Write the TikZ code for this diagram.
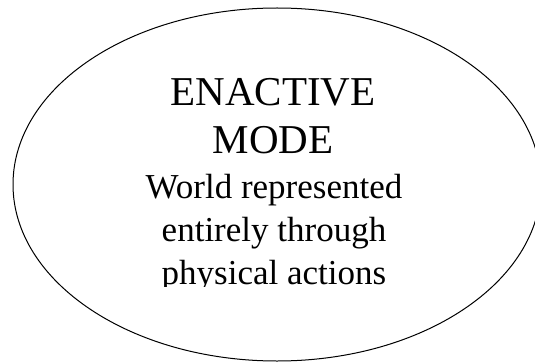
\documentclass[tikz,border=0pt]{standalone}
\usepackage{fontspec}
\setmainfont{Liberation Serif}
\usepackage{tikz}
\usetikzlibrary{positioning}

\tikzset{
  titleline/.style={anchor=base, inner sep=0pt, font=\fontsize{41}{48}\selectfont},
  textline/.style={anchor=base, inner sep=0pt, font=\fontsize{35}{40}\selectfont}
}

\begin{document}
\begin{tikzpicture}[x=1pt,y=1pt]
  \useasboundingbox (0,0) rectangle (535,362);
  \clip (0,0) rectangle (535,362);

  % Outline (runs off the right edge)
  \coordinate (centre) at (277,177.5);
  \draw[line width=1pt] (centre) ellipse [x radius=264, y radius=176.5];

  % Title
  \node[titleline] (enactive) at (273,256) {ENACTIVE};
  \node[titleline] (mode) at (273,208) {MODE};

  % Description (last line cut off at the bottom)
  \begin{scope}
    \clip (0,76) rectangle (535,362);
    \node[textline] (world) at (274,164) {World represented};
    \node[textline] (entirely) at (274,121) {entirely through};
    \node[textline] (physical) at (274,78) {physical actions};
  \end{scope}
\end{tikzpicture}
\end{document}
